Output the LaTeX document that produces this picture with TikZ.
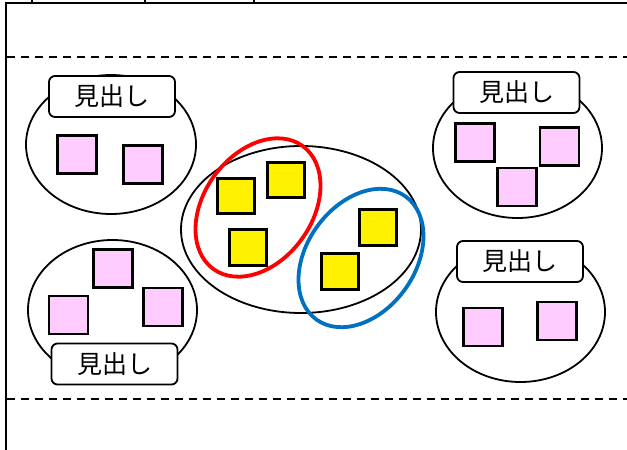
\documentclass[tikz,border=0pt]{standalone}
\usepackage{fontspec}
\newfontfamily\jp{Noto Sans CJK JP}
\usetikzlibrary{shapes.geometric}
\definecolor{pinkfill}{HTML}{FFCCFF}
\definecolor{myblue}{HTML}{0070C0}
\tikzset{
  frameline/.style={line width=2pt, black},
  sepline/.style={line width=2pt, black, dash pattern=on 8pt off 6pt},
  groupell/.style={ellipse, draw, line width=1.8pt, inner sep=0pt},
  pinksq/.style={rectangle, draw, line width=2.6pt, fill=pinkfill, minimum width=39pt, minimum height=38pt, inner sep=0pt},
  yelsq/.style={rectangle, draw, line width=2.6pt, fill=yellow, minimum width=37pt, minimum height=35.5pt, inner sep=0pt},
  headbox/.style={rectangle, rounded corners=6pt, draw, line width=1.8pt, fill=white, minimum width=126pt, minimum height=41pt, inner sep=0pt, font=\jp\fontsize{25pt}{25pt}\selectfont},
  ring/.style={ellipse, draw, line width=3.8pt, inner sep=0pt, minimum width=152pt, minimum height=108pt, rotate=54},
}
\begin{document}
\begin{tikzpicture}[x=1pt, y=-1pt]
\useasboundingbox (0,0) rectangle (627,450);
% frame
\coordinate (tl) at (6,2.5);
\coordinate (tr) at (627,2.5);
\coordinate (bl) at (6,450);
\draw[frameline] (tr) -- (tl) -- (bl);
\coordinate (t1a) at (32,0);   \coordinate (t1b) at (32,2.5);
\coordinate (t2a) at (145,0);  \coordinate (t2b) at (145,2.5);
\coordinate (t3a) at (254,0);  \coordinate (t3b) at (254,2.5);
\draw[frameline] (t1a) -- (t1b);
\draw[frameline] (t2a) -- (t2b);
\draw[frameline] (t3a) -- (t3b);
% separators
\coordinate (d1a) at (7,56.5);  \coordinate (d1b) at (627,56.5);
\coordinate (d2a) at (7,399);   \coordinate (d2b) at (627,399);
\draw[sepline] (d1a) -- (d1b);
\draw[sepline] (d2a) -- (d2b);

% top-left group
\node[groupell, minimum width=170pt, minimum height=139pt] (eTL) at (111,144.5) {};
\node[pinksq] (pTL1) at (77,154.5) {};
\node[pinksq] (pTL2) at (143,164.5) {};
\node[headbox] (hTL) at (112,96.5) {見出し};

% bottom-left group
\node[groupell, minimum width=169pt, minimum height=140pt] (eBL) at (112.5,310) {};
\node[pinksq] (pBL1) at (113,268.5) {};
\node[pinksq] (pBL2) at (68.5,315) {};
\node[pinksq] (pBL3) at (163,307) {};
\node[headbox] (hBL) at (114.5,364) {見出し};

% top-right group
\node[groupell, minimum width=169pt, minimum height=140pt] (eTR) at (517.5,148) {};
\node[pinksq] (pTR1) at (475,142.5) {};
\node[pinksq] (pTR2) at (559.5,146.5) {};
\node[pinksq] (pTR3) at (517,187) {};
\node[headbox] (hTR) at (516.5,92.5) {見出し};

% bottom-right group
\node[groupell, minimum width=169pt, minimum height=140pt] (eBR) at (520.5,312) {};
\node[pinksq] (pBR1) at (483,327) {};
\node[pinksq] (pBR2) at (557,321) {};
\node[headbox] (hBR) at (520,261.5) {見出し};

% center group
\node[groupell, minimum width=240pt, minimum height=167pt] (eC) at (301,229.5) {};
\node[ring, draw=red] (rRed) at (258,207.5) {};
\node[ring, draw=myblue] (rBlue) at (361,258) {};
\node[yelsq] (y1) at (236,196) {};
\node[yelsq] (y2) at (286,180) {};
\node[yelsq] (y3) at (248,247.5) {};
\node[yelsq] (y4) at (378,227.5) {};
\node[yelsq] (y5) at (340,271.5) {};
\end{tikzpicture}
\end{document}
